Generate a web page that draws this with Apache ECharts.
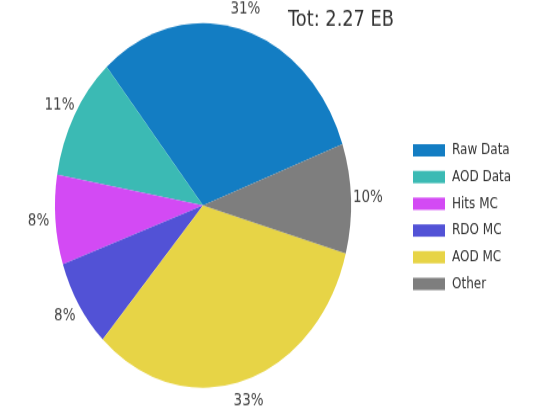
<!DOCTYPE html>
<html>
<head>
<meta charset="utf-8">
<script src="https://cdn.jsdelivr.net/npm/echarts@6/dist/echarts.min.js"></script>
<style>
  html, body { margin: 0; padding: 0; background: #fff; width: 539px; height: 409px; }
  #main { width: 539px; height: 332px; transform: scaleY(1.2319); transform-origin: 0 0; }
</style>
</head>
<body>
<div id="main"></div>
<script>
const categories = ['Raw Data', 'AOD Data', 'Hits MC', 'RDO MC', 'AOD MC', 'Other'];
const valuesEB = [0.70, 0.25, 0.18, 0.18, 0.74, 0.22];
const colors = ['#137DC3', '#3BBAB4', '#D34AF4', '#5252D6', '#E7D446', '#7E7E7E'];
const totalLabel = 'Tot: 2.27 EB';

const total = valuesEB.reduce((a, b) => a + b, 0);
const pieData = categories.map((c, i) => ({ name: c, value: valuesEB[i], itemStyle: { color: colors[i] } }));
const labelData = categories.map((c, i) => ({ name: c, value: valuesEB[i] }));

const chart = echarts.init(document.getElementById('main'), null, { renderer: 'canvas' });
chart.setOption({
  animation: false,
  title: {
    text: totalLabel,
    left: 283, top: 2,
    textStyle: { fontFamily: 'DejaVu Sans', fontSize: 17.8, fontWeight: 'normal', color: '#333' }
  },
  legend: {
    orient: 'vertical',
    left: 408, top: 111,
    itemWidth: 32, itemHeight: 10, itemGap: 9.7,
    icon: 'rect',
    data: categories,
    textStyle: { fontFamily: 'DejaVu Sans', fontSize: 12, color: '#333', lineHeight: 10, padding: [0, 0, 0, 2] }
  },
  series: [
    {
      type: 'pie',
      center: [203, 166.7],
      radius: [0, 148],
      startAngle: 19.6,
      clockwise: false,
      silent: true,
      label: { show: false },
      labelLine: { show: false },
      data: pieData
    },
    {
      type: 'pie',
      center: [203, 166.7],
      radius: [157, 167],
      startAngle: 19.6,
      clockwise: false,
      silent: true,
      legendHoverLink: false,
      itemStyle: { color: 'rgba(0,0,0,0)' },
      label: {
        show: true, position: 'inside', overflow: 'none',
        fontFamily: 'DejaVu Sans', fontSize: 13.5, color: '#444',
        formatter: p => Math.round(p.value / total * 100) + '%'
      },
      labelLine: { show: false },
      data: labelData
    }
  ]
});
</script>
</body>
</html>
